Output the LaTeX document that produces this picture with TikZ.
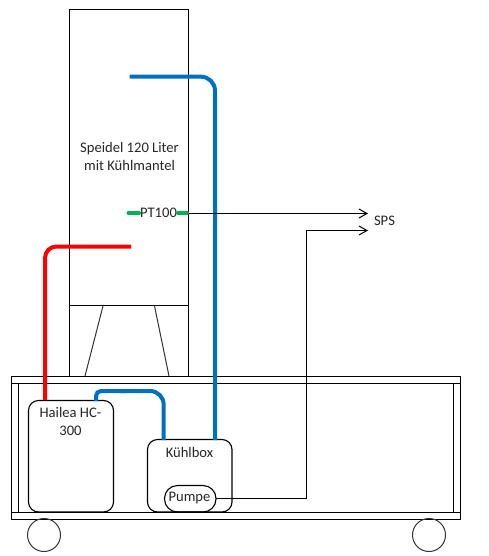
\documentclass[tikz,border=0pt]{standalone}
\usepackage{fontspec}
\setmainfont{Carlito}
\usetikzlibrary{arrows.meta}
\tikzset{
  x=1pt,y=-1pt,
  frame/.style={draw=black,line width=1.1pt,inner sep=0pt,outer sep=0pt},
  thinline/.style={draw=black!80,line width=1pt},
  lbl/.style={font=\fontsize{14.6}{17.5}\selectfont,text=black!85,align=center,inner sep=0pt},
  box/.style={draw=black,line width=1.1pt,rounded corners=10pt,inner sep=0pt,outer sep=0pt},
  bluepipe/.style={draw={rgb,255:red,0;green,112;blue,192},line width=4pt},
  redpipe/.style={draw=red,line width=4pt},
  greenpipe/.style={draw={rgb,255:red,0;green,176;blue,80},line width=4pt,line cap=round},
  signal/.style={draw=black,line width=1.1pt,-{Straight Barb[length=8pt,width=9pt,line width=1pt]}},
  wheel/.style={circle,draw=black!80,line width=1pt,minimum size=33pt,inner sep=0pt,outer sep=0pt}
}
\begin{document}
\begin{tikzpicture}
\useasboundingbox (0,0) rectangle (489,556);
% tank
\node[frame,anchor=north west,minimum width=119pt,minimum height=296pt] (tank) at (69.5,9.5) {};
\node[frame,anchor=north west,minimum width=119pt,minimum height=71pt] (stand) at (69.5,305.5) {};
\coordinate (legAt) at (103,306); \coordinate (legAb) at (85,376);
\coordinate (legBt) at (154.5,306); \coordinate (legBb) at (169,376);
\draw[thinline] (legAt) -- (legAb);
\draw[thinline] (legBt) -- (legBb);
% frame
\node[frame,anchor=north west,minimum width=449pt,minimum height=143pt] (outer) at (11.5,376.5) {};
\node[frame,anchor=north west,minimum width=449pt,minimum height=7pt] (topbar) at (11.5,376.5) {};
\node[frame,anchor=north west,minimum width=449pt,minimum height=7pt] (botbar) at (11.5,512.5) {};
\node[frame,anchor=north west,minimum width=435pt,minimum height=129pt] (inner) at (18.5,383.5) {};
% wheels
\node[wheel] (w1) at (44,535) {};
\node[wheel] (w2) at (429,535) {};
% boxes
\node[box,anchor=north west,minimum width=85pt,minimum height=111.5pt] (hailea) at (28.5,400.5) {};
\node[box,anchor=north west,minimum width=84.5pt,minimum height=72.5pt] (kuehl) at (147.5,439.5) {};
\node[box,rounded corners=13pt,anchor=north west,minimum width=51.5pt,minimum height=26.5pt] (pumpe) at (164.5,485.5) {};
% labels
\node[lbl] (speidel) at (129.5,156.5) {Speidel 120 Liter\\mit Kühlmantel};
\node[lbl] (hlabel) at (70.5,421.5) {Hailea HC-\\300};
\node[lbl] (klabel) at (189.5,452.5) {Kühlbox};
\node[lbl] (plabel) at (189.5,498) {Pumpe};
\node[lbl] (pt) at (158.5,212.5) {PT100};
\node[lbl] (sps) at (384.5,220.5) {SPS};
% pipes
\coordinate (redEnd) at (131,246.5);
\coordinate (blueEnd) at (129.5,76.7);
\coordinate (greenR) at (188.5,213.5);
\coordinate (t1) at (368,213.5);
\coordinate (t2) at (368,230.5);
\coordinate (pumpOut) at (216,498.5);
\coordinate (bendA) at (306.5,498.5);
\coordinate (bendB) at (306.5,230.5);
\draw[redpipe,rounded corners=11.5pt] (45,400) -- (45,246.5) -- (redEnd);
\draw[bluepipe,rounded corners=14pt] (215,440) -- (215,76.7) -- (blueEnd);
\draw[bluepipe,rounded corners=5pt] (96,401) -- (96,391) -- (125,391);
\draw[bluepipe,rounded corners=13.7pt] (120,391) -- (163.7,391) -- (163.7,440);
\draw[greenpipe] (128.5,213) -- (139,213);
\draw[greenpipe] (178,213) -- (187,213);
% signals
\draw[signal] (greenR) -- (t1);
\draw[signal] (pumpOut) -- (bendA) -- (bendB) -- (t2);
\end{tikzpicture}
\end{document}
